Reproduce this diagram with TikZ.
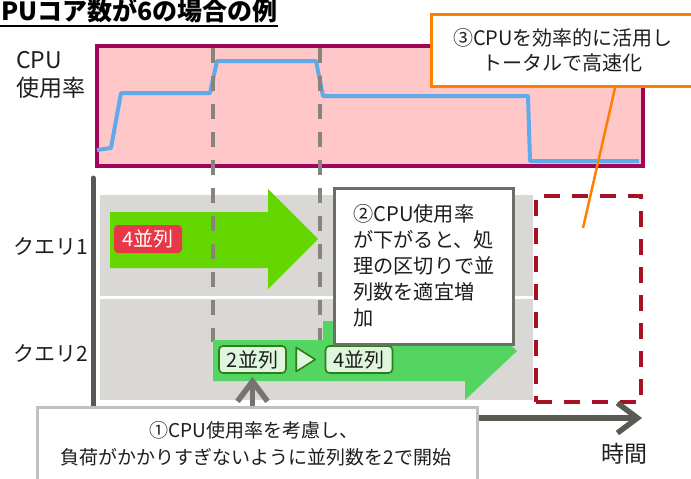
\documentclass[tikz,border=0pt]{standalone}
\usepackage{fontspec}
\setmainfont{Noto Sans CJK JP}
\usetikzlibrary{arrows.meta,calc}
\definecolor{txt}{RGB}{30,30,30}
\definecolor{pinkfill}{RGB}{255,199,199}
\definecolor{maroon}{RGB}{160,5,90}
\definecolor{cpublue}{RGB}{95,170,235}
\definecolor{orangec}{RGB}{255,128,0}
\definecolor{dashgray}{RGB}{135,132,126}
\definecolor{axisgray}{RGB}{90,90,84}
\definecolor{bandgray}{RGB}{218,216,212}
\definecolor{greenA}{RGB}{100,214,0}
\definecolor{greenB}{RGB}{84,212,96}
\definecolor{redlbl}{RGB}{232,56,72}
\definecolor{lgfill}{RGB}{222,246,222}
\definecolor{lgborder}{RGB}{45,125,25}
\definecolor{boxtwo}{RGB}{110,110,104}
\definecolor{boxone}{RGB}{192,192,192}
\definecolor{darkred}{RGB}{165,18,38}
\definecolor{arrgray}{RGB}{118,116,110}
\begin{document}
\begin{tikzpicture}[x=1pt,y=-1pt,
  lbl/.style={font=\fontsize{21}{26}\selectfont, text=txt, inner sep=0pt},
  band/.style={fill=bandgray, draw=none, inner sep=0pt, anchor=north west},
  vdash/.style={draw=dashgray, line width=4pt, dash pattern=on 15pt off 13pt},
  parlbl/.style={draw=lgborder, fill=lgfill, line width=1.6pt, rounded corners=4pt,
     minimum width=67pt, minimum height=27pt, inner sep=0pt, text=txt,
     font=\fontsize{20}{24}\selectfont},
  bigtip/.style={-{Straight Barb[length=20pt,width=30pt,line width=5.5pt]}, line width=5.5pt}
]
\useasboundingbox (0,0) rectangle (691,479);

% title
\node[anchor=base east, inner sep=0pt, text=black,
      font=\bfseries\fontsize{25}{30}\selectfont] (title) at (278,20) {CPUコア数が6の場合の例};
\draw[line width=2.5pt] ($(title.base east)+(0,6)$) -- ++(-320,0);

% CPU usage panel
\node[fill=pinkfill, draw=maroon, line width=4pt, anchor=north west, inner sep=0pt,
      minimum width=546pt, minimum height=120pt] (cpu) at (95,44) {};
\draw[cpublue, line width=4pt, line join=round]
  (97,150) -- (111,148) -- (121,93) -- (210,93) -- (217,61) -- (316,61) -- (323,96)
  -- (528,96) -- (530,161) -- (639,161);
\node[lbl, anchor=base west, font=\fontsize{23}{28}\selectfont] (cpulbl) at (16,68) {CPU};
\node[lbl, anchor=base west, font=\fontsize{23}{28}\selectfont] (uselbl) at (16,96) {使用率};

% query bands
\node[band, minimum width=433pt, minimum height=101pt] (row1) at (100,195) {};
\node[band, minimum width=433pt, minimum height=101pt] (row2) at (100,299) {};

% query 1 arrow
\fill[greenA] (110,212) -- (268,212) -- (268,189) -- (318,239) -- (268,289) -- (268,268) -- (110,268) -- cycle;
\node[fill=redlbl, rounded corners=4pt, minimum width=68pt, minimum height=28pt, inner sep=0pt,
      text=white, font=\fontsize{20}{24}\selectfont] (p4a) at (148,239) {4並列};

% dashed time markers
\coordinate (m1top) at (213,48);
\coordinate (m1bot) at (213,342);
\coordinate (m2top) at (320,48);
\coordinate (m2bot) at (320,342);
\draw[vdash] (m1top) -- (m1bot);
\draw[vdash] (m2top) -- (m2bot);

% query 2 arrow
\fill[greenB] (213,340) -- (323,340) -- (323,321) -- (465,321) -- (465,302) -- (517,351)
  -- (465,400) -- (465,381) -- (213,381) -- cycle;
\node[parlbl] (p2) at (252.5,359.5) {2並列};
\node[parlbl] (p4b) at (359,359.5) {4並列};
\filldraw[draw=lgborder, fill=lgfill, line width=1.6pt, line join=round]
  ($(p2.east)!0.25!(p4b.west)+(0,-12)$) -- ($(p2.east)!0.75!(p4b.west)$) -- ($(p2.east)!0.25!(p4b.west)+(0,12)$) -- cycle;

% box 2
\node[draw=boxtwo, fill=white, line width=3pt, anchor=north west, inner sep=0pt,
      minimum width=179pt, minimum height=156pt] (b2) at (333,187) {};
\fill[boxtwo] ($(b2.south west)+(29,0)$) -- ($(b2.south west)+(41,0)$) -- ($(p4b.north)+(0,-1)$) -- cycle;
\begin{scope}[every node/.style={lbl, anchor=base west, font=\fontsize{20.2}{26}\selectfont}]
\node (t21) at (353,221) {②CPU使用率};
\node (t22) at (353,247) {が下がると、処};
\node (t23) at (353,273) {理の区切りで並};
\node (t24) at (353,299) {列数を適宜増};
\node (t25) at (353,325) {加};
\end{scope}

% target dashed box
\node[draw=darkred, line width=4pt, dash pattern=on 16pt off 12pt, anchor=north west,
      inner sep=0pt, minimum width=105pt, minimum height=206pt] (goal) at (534,194) {};

% axes
\coordinate (ytop) at (93,178);
\coordinate (orig) at (93,418);
\coordinate (xend) at (642,418);
\draw[axisgray, line width=5pt, line cap=round] (ytop) -- (orig);
\draw[axisgray, bigtip] (orig) -- (xend);
\node[lbl, anchor=base west, font=\fontsize{23}{28}\selectfont] (timelbl) at (601,462) {時間};

% query labels
\node[lbl, anchor=base west] (q1) at (13,254) {クエリ1};
\node[lbl, anchor=base west] (q2) at (13,361) {クエリ2};

% box 1
\node[draw=boxone, fill=white, line width=3pt, anchor=north west, inner sep=0pt,
      minimum width=440pt, minimum height=90pt] (b1) at (36,406) {};
\node[lbl, anchor=base, font=\fontsize{19}{24}\selectfont] (t11) at (254,437) {①CPU使用率を考慮し、};
\node[lbl, anchor=base, font=\fontsize{19}{24}\selectfont] (t12) at (256,464) {負荷がかかりすぎないように並列数を2で開始};
\draw[arrgray, bigtip] (b1.north -| p2.south) -- ($(p2.south)+(0,3)$);

% box 3
\node[draw=orangec, fill=white, line width=3pt, anchor=north west, inner sep=0pt,
      minimum width=280pt, minimum height=72pt] (b3) at (430,13) {};
\node[lbl, anchor=base, font=\fontsize{20}{24}\selectfont] (t31) at (563,45) {③CPUを効率的に活用し};
\node[lbl, anchor=base, font=\fontsize{20}{24}\selectfont] (t32) at (562,70) {トータルで高速化};
\coordinate (gpt) at (583,228);
\draw[orangec, line width=2.5pt] ($(b3.south west)+(185,0)$) -- (gpt);
\end{tikzpicture}
\end{document}
